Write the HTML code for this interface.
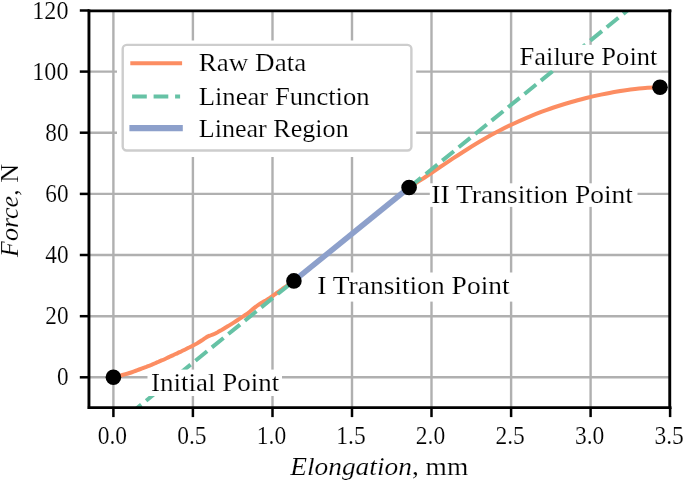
<!DOCTYPE html><html><head><meta charset="utf-8"><title>Force vs Elongation</title><style>html,body{margin:0;padding:0;background:#fff}svg{display:block}text{font-family:"Liberation Serif",serif;font-size:24px;fill:#000;stroke:#fff;stroke-width:0.16px;paint-order:fill stroke}.i{font-style:italic}.an{font-size:24.8px}.lg{font-size:24.8px}.tk{font-size:24.3px}.al{font-size:25px}</style></head><body>
<svg width="685" height="482" viewBox="0 0 685 482">
<rect width="685" height="482" fill="#fff"/>
<defs><clipPath id="ax"><rect x="89.2" y="10.9" width="580.8" height="396.7"/></clipPath></defs>
<g clip-path="url(#ax)">
<g stroke="#b0b0b0" stroke-width="2.4" fill="none">
<line x1="113.4" y1="10.9" x2="113.4" y2="407.6"/>
<line x1="192.9" y1="10.9" x2="192.9" y2="407.6"/>
<line x1="272.5" y1="10.9" x2="272.5" y2="407.6"/>
<line x1="352.0" y1="10.9" x2="352.0" y2="407.6"/>
<line x1="431.5" y1="10.9" x2="431.5" y2="407.6"/>
<line x1="511.1" y1="10.9" x2="511.1" y2="407.6"/>
<line x1="590.6" y1="10.9" x2="590.6" y2="407.6"/>
<line x1="670.1" y1="10.9" x2="670.1" y2="407.6"/>
<line x1="89.2" y1="377.3" x2="670.0" y2="377.3"/>
<line x1="89.2" y1="316.2" x2="670.0" y2="316.2"/>
<line x1="89.2" y1="255.0" x2="670.0" y2="255.0"/>
<line x1="89.2" y1="193.9" x2="670.0" y2="193.9"/>
<line x1="89.2" y1="132.7" x2="670.0" y2="132.7"/>
<line x1="89.2" y1="71.6" x2="670.0" y2="71.6"/>
<line x1="89.2" y1="10.5" x2="670.0" y2="10.5"/>
</g>
<path d="M113.5 377.2 C114.2 377.1 116.2 376.7 117.5 376.3 C118.8 376.0 120.2 375.7 121.5 375.3 C122.8 375.0 124.2 374.6 125.5 374.2 C126.9 373.8 128.2 373.4 129.5 373.0 C130.9 372.6 132.2 372.1 133.5 371.6 C134.9 371.2 136.2 370.7 137.5 370.2 C138.9 369.7 140.2 369.2 141.5 368.7 C142.9 368.2 144.2 367.7 145.6 367.2 C146.9 366.6 148.2 366.1 149.6 365.6 C150.9 365.0 152.2 364.5 153.6 363.9 C154.9 363.3 156.2 362.8 157.6 362.2 C158.9 361.6 160.2 361.0 161.6 360.4 C162.9 359.9 164.3 359.3 165.6 358.7 C166.9 358.1 168.3 357.5 169.6 356.8 C170.9 356.2 172.3 355.6 173.6 355.0 C174.9 354.4 176.3 353.7 177.6 353.1 C178.9 352.5 180.3 351.8 181.6 351.2 C182.9 350.6 184.3 349.9 185.6 349.3 C187.0 348.6 188.3 347.9 189.6 347.3 C191.0 346.6 192.3 345.9 193.6 345.2 C195.0 344.5 196.3 343.9 197.6 343.1 C199.0 342.3 200.3 341.4 201.6 340.5 C203.0 339.6 204.3 338.5 205.7 337.7 C207.0 336.9 208.3 336.3 209.7 335.7 C211.0 335.1 212.3 334.7 213.7 334.2 C215.0 333.6 216.3 332.9 217.7 332.2 C219.0 331.5 220.3 330.7 221.7 329.9 C223.0 329.1 224.4 328.3 225.7 327.5 C227.0 326.7 228.4 325.9 229.7 325.1 C231.0 324.3 232.4 323.4 233.7 322.6 C235.0 321.8 236.4 320.9 237.7 320.0 C239.0 319.2 240.4 318.3 241.7 317.4 C243.0 316.6 244.4 315.7 245.7 314.7 C247.1 313.8 248.4 312.8 249.7 311.8 C251.1 310.7 252.4 309.5 253.7 308.4 C255.1 307.4 256.4 306.2 257.7 305.3 C259.1 304.3 260.4 303.5 261.7 302.7 C263.1 302.0 264.4 301.3 265.8 300.5 C267.1 299.7 268.4 298.8 269.8 297.9 C271.1 297.0 272.4 296.1 273.8 295.1 C275.1 294.2 276.4 293.2 277.8 292.3 C279.1 291.3 280.4 290.3 281.8 289.4 C283.1 288.5 284.5 287.5 285.8 286.6 C287.1 285.6 288.5 284.7 289.8 283.8 C291.1 282.9 293.1 281.6 293.8 281.1 L409.1 187.5 L409.1 187.5 C411.6 185.9 418.9 181.2 423.9 178.0 C428.8 174.7 433.7 171.3 438.6 168.0 C443.5 164.7 448.5 161.4 453.4 158.2 C458.3 155.0 463.2 151.8 468.1 148.7 C473.1 145.6 478.0 142.6 482.9 139.8 C487.8 137.0 492.7 134.2 497.7 131.6 C502.6 129.0 507.5 126.5 512.4 124.2 C517.3 121.9 522.3 119.7 527.2 117.6 C532.1 115.5 537.0 113.5 541.9 111.7 C546.8 109.9 551.8 108.1 556.7 106.5 C561.6 104.9 566.5 103.4 571.4 102.0 C576.4 100.6 581.3 99.3 586.2 98.0 C591.1 96.8 596.0 95.7 601.0 94.6 C605.9 93.6 610.8 92.6 615.7 91.7 C620.6 90.9 625.6 90.1 630.5 89.4 C635.4 88.8 640.3 88.2 645.2 87.9 C650.2 87.5 657.5 87.3 660.0 87.2" fill="none" stroke="#fc8d62" stroke-width="4" stroke-linecap="round" stroke-linejoin="round"/>
<line x1="100.0" y1="438.1" x2="660.0" y2="-15.9" stroke="#66c2a5" stroke-width="4" stroke-dasharray="15.00 6.18" stroke-dashoffset="4.21"/>
<line x1="293.9" y1="280.9" x2="409.1" y2="187.5" stroke="#8da0cb" stroke-width="5.6" stroke-linecap="butt"/>
<circle cx="113.4" cy="377.3" r="7.8" fill="#000"/>
<circle cx="293.9" cy="280.9" r="7.8" fill="#000"/>
<circle cx="409.1" cy="187.5" r="7.8" fill="#000"/>
<circle cx="660.0" cy="87.2" r="7.8" fill="#000"/>
</g>
<rect x="147.5" y="369.6" width="134.5" height="26.4" fill="#fff"/>
<text class="an" x="151.0" y="390.7" textLength="128.2" lengthAdjust="spacingAndGlyphs">Initial Point</text>
<rect x="315.5" y="272.5" width="198.5" height="29.1" fill="#fff"/>
<text class="an" x="317.2" y="294.2" textLength="192.5" lengthAdjust="spacingAndGlyphs">I Transition Point</text>
<rect x="429.8" y="183.3" width="207.7" height="23.6" fill="#fff"/>
<text class="an" x="431.3" y="202.6" textLength="201.7" lengthAdjust="spacingAndGlyphs">II Transition Point</text>
<rect x="517.5" y="44.8" width="144.0" height="25.5" fill="#fff"/>
<text class="an" x="519.6" y="65.1" textLength="137.8" lengthAdjust="spacingAndGlyphs">Failure Point</text>
<rect x="117" y="40.5" width="299.2" height="116.5" fill="#fff"/>
<rect x="122.7" y="44.9" width="288.7" height="105.6" rx="4" ry="4" fill="#fff" stroke="#cdcdcd" stroke-width="2.4"/>
<line x1="130.3" y1="63.2" x2="182.1" y2="63.2" stroke="#fc8d62" stroke-width="4"/>
<line x1="132.1" y1="96.5" x2="180.1" y2="96.5" stroke="#66c2a5" stroke-width="4" stroke-dasharray="14.7 6.8"/>
<line x1="129.4" y1="128.2" x2="182.8" y2="128.2" stroke="#8da0cb" stroke-width="6.2"/>
<text class="lg" x="198.7" y="70.9" textLength="107.5" lengthAdjust="spacingAndGlyphs">Raw Data</text>
<text class="lg" x="198.7" y="104.8" textLength="171.0" lengthAdjust="spacingAndGlyphs">Linear Function</text>
<text class="lg" x="198.7" y="136.5" textLength="150.0" lengthAdjust="spacingAndGlyphs">Linear Region</text>
<g stroke="#000" stroke-linecap="square"><line x1="88.95" y1="10.90" x2="88.95" y2="407.60" stroke-width="2.9"/><line x1="669.75" y1="10.90" x2="669.75" y2="407.60" stroke-width="2.9"/><line x1="89.25" y1="10.90" x2="670.00" y2="10.90" stroke-width="2.8"/><line x1="89.25" y1="407.60" x2="670.00" y2="407.60" stroke-width="2.9"/></g>
<g stroke="#000" stroke-width="2.5">
<line x1="113.4" y1="407.6" x2="113.4" y2="417.1"/>
<line x1="192.9" y1="407.6" x2="192.9" y2="417.1"/>
<line x1="272.5" y1="407.6" x2="272.5" y2="417.1"/>
<line x1="352.0" y1="407.6" x2="352.0" y2="417.1"/>
<line x1="431.5" y1="407.6" x2="431.5" y2="417.1"/>
<line x1="511.1" y1="407.6" x2="511.1" y2="417.1"/>
<line x1="590.6" y1="407.6" x2="590.6" y2="417.1"/>
<line x1="670.1" y1="407.6" x2="670.1" y2="417.1"/>
<line x1="79.8" y1="377.3" x2="89.2" y2="377.3"/>
<line x1="79.8" y1="316.2" x2="89.2" y2="316.2"/>
<line x1="79.8" y1="255.0" x2="89.2" y2="255.0"/>
<line x1="79.8" y1="193.9" x2="89.2" y2="193.9"/>
<line x1="79.8" y1="132.7" x2="89.2" y2="132.7"/>
<line x1="79.8" y1="71.6" x2="89.2" y2="71.6"/>
<line x1="79.8" y1="10.5" x2="89.2" y2="10.5"/>
</g>
<text class="tk" x="112.4" y="443.6" text-anchor="middle" textLength="29.4" lengthAdjust="spacingAndGlyphs">0.0</text>
<text class="tk" x="191.9" y="443.6" text-anchor="middle" textLength="29.4" lengthAdjust="spacingAndGlyphs">0.5</text>
<text class="tk" x="271.5" y="443.6" text-anchor="middle" textLength="29.4" lengthAdjust="spacingAndGlyphs">1.0</text>
<text class="tk" x="351.0" y="443.6" text-anchor="middle" textLength="29.4" lengthAdjust="spacingAndGlyphs">1.5</text>
<text class="tk" x="430.5" y="443.6" text-anchor="middle" textLength="29.4" lengthAdjust="spacingAndGlyphs">2.0</text>
<text class="tk" x="510.1" y="443.6" text-anchor="middle" textLength="29.4" lengthAdjust="spacingAndGlyphs">2.5</text>
<text class="tk" x="589.6" y="443.6" text-anchor="middle" textLength="29.4" lengthAdjust="spacingAndGlyphs">3.0</text>
<text class="tk" x="669.1" y="443.6" text-anchor="middle" textLength="29.4" lengthAdjust="spacingAndGlyphs">3.5</text>
<text class="tk" x="68.5" y="385.4" text-anchor="end" textLength="11.6" lengthAdjust="spacingAndGlyphs">0</text>
<text class="tk" x="68.5" y="324.3" text-anchor="end" textLength="23.2" lengthAdjust="spacingAndGlyphs">20</text>
<text class="tk" x="68.5" y="263.1" text-anchor="end" textLength="23.2" lengthAdjust="spacingAndGlyphs">40</text>
<text class="tk" x="68.5" y="202.0" text-anchor="end" textLength="23.2" lengthAdjust="spacingAndGlyphs">60</text>
<text class="tk" x="68.5" y="140.8" text-anchor="end" textLength="23.2" lengthAdjust="spacingAndGlyphs">80</text>
<text class="tk" x="68.5" y="79.7" text-anchor="end" textLength="36.2" lengthAdjust="spacingAndGlyphs">100</text>
<text class="tk" x="68.5" y="18.6" text-anchor="end" textLength="36.2" lengthAdjust="spacingAndGlyphs">120</text>
<text class="al" x="290.2" y="474.7" textLength="178" lengthAdjust="spacingAndGlyphs"><tspan class="i">Elongation</tspan>, mm</text>
<text class="al" transform="translate(18.2,256.9) rotate(-90)" x="0" y="0" textLength="92.8" lengthAdjust="spacingAndGlyphs"><tspan class="i">Force</tspan>, N</text>
</svg></body></html>
